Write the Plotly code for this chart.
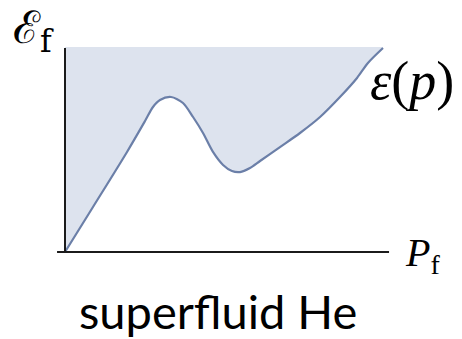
import plotly.graph_objects as go

# Roton-type dispersion of superfluid helium: momentum p and energy ε(p)
momentum = [0.0, 0.264, 0.585, 0.755, 0.830, 0.896, 1.000, 1.113, 1.208, 1.302,
            1.396, 1.491, 1.575, 1.651, 1.745, 1.840, 2.028, 2.217, 2.406, 2.594,
            2.755, 2.858, 3.0]
energy = [0.0, 0.439, 0.976, 1.278, 1.415, 1.483, 1.512, 1.454, 1.317, 1.161,
          0.976, 0.849, 0.790, 0.780, 0.820, 0.888, 1.024, 1.161, 1.317, 1.512,
          1.698, 1.844, 1.990]
energy_top = 2.0

W, H = 462, 339
LINE = "#6b7fa8"
FILL = "#dde3ee"
AXIS = "#1b1b1b"

fig = go.Figure()

# upper boundary of the allowed region
fig.add_trace(go.Scatter(
    x=momentum, y=[energy_top] * len(momentum),
    mode="lines", line=dict(width=0, color=FILL),
    hoverinfo="skip", showlegend=False,
))
# dispersion curve, region above it shaded
fig.add_trace(go.Scatter(
    x=momentum, y=energy, mode="lines",
    line=dict(color=LINE, width=2.2, shape="spline", smoothing=0.8),
    fill="tonexty", fillcolor=FILL,
    hoverinfo="skip", showlegend=False,
))

# axes drawn as plain lines
fig.add_shape(type="line", x0=0, x1=0, y0=-0.01, y1=1.99,
              line=dict(color=AXIS, width=2))
fig.add_shape(type="line", x0=-0.075, x1=3.057, y0=0, y1=0,
              line=dict(color=AXIS, width=2))


def label(text, px, py, family, size):
    fig.add_annotation(xref="paper", yref="paper", x=px / W, y=1 - py / H,
                       xanchor="center", yanchor="middle",
                       text=text, showarrow=False,
                       font=dict(family=family, size=size, color="#000"))


serif = "Liberation Serif, DejaVu Serif, serif"
label("ℰ<sub>f</sub>", 33, 30, "DejaVu Serif", 45)
label("<i>ε</i>(<i>p</i>)", 412, 81, serif, 54)
label("<i>P</i><sub>f</sub>", 422, 255, serif, 40)
label("superfluid He", 218, 311, "Lato", 47)

fig.update_layout(
    width=W, height=H,
    margin=dict(l=0, r=0, t=0, b=0),
    paper_bgcolor="white", plot_bgcolor="white",
    xaxis=dict(range=[-65 / 106, (W - 65) / 106], visible=False, fixedrange=True),
    yaxis=dict(range=[-(H - 252) / 102.5, 252 / 102.5], visible=False, fixedrange=True),
)

fig.write_html("out.html")
